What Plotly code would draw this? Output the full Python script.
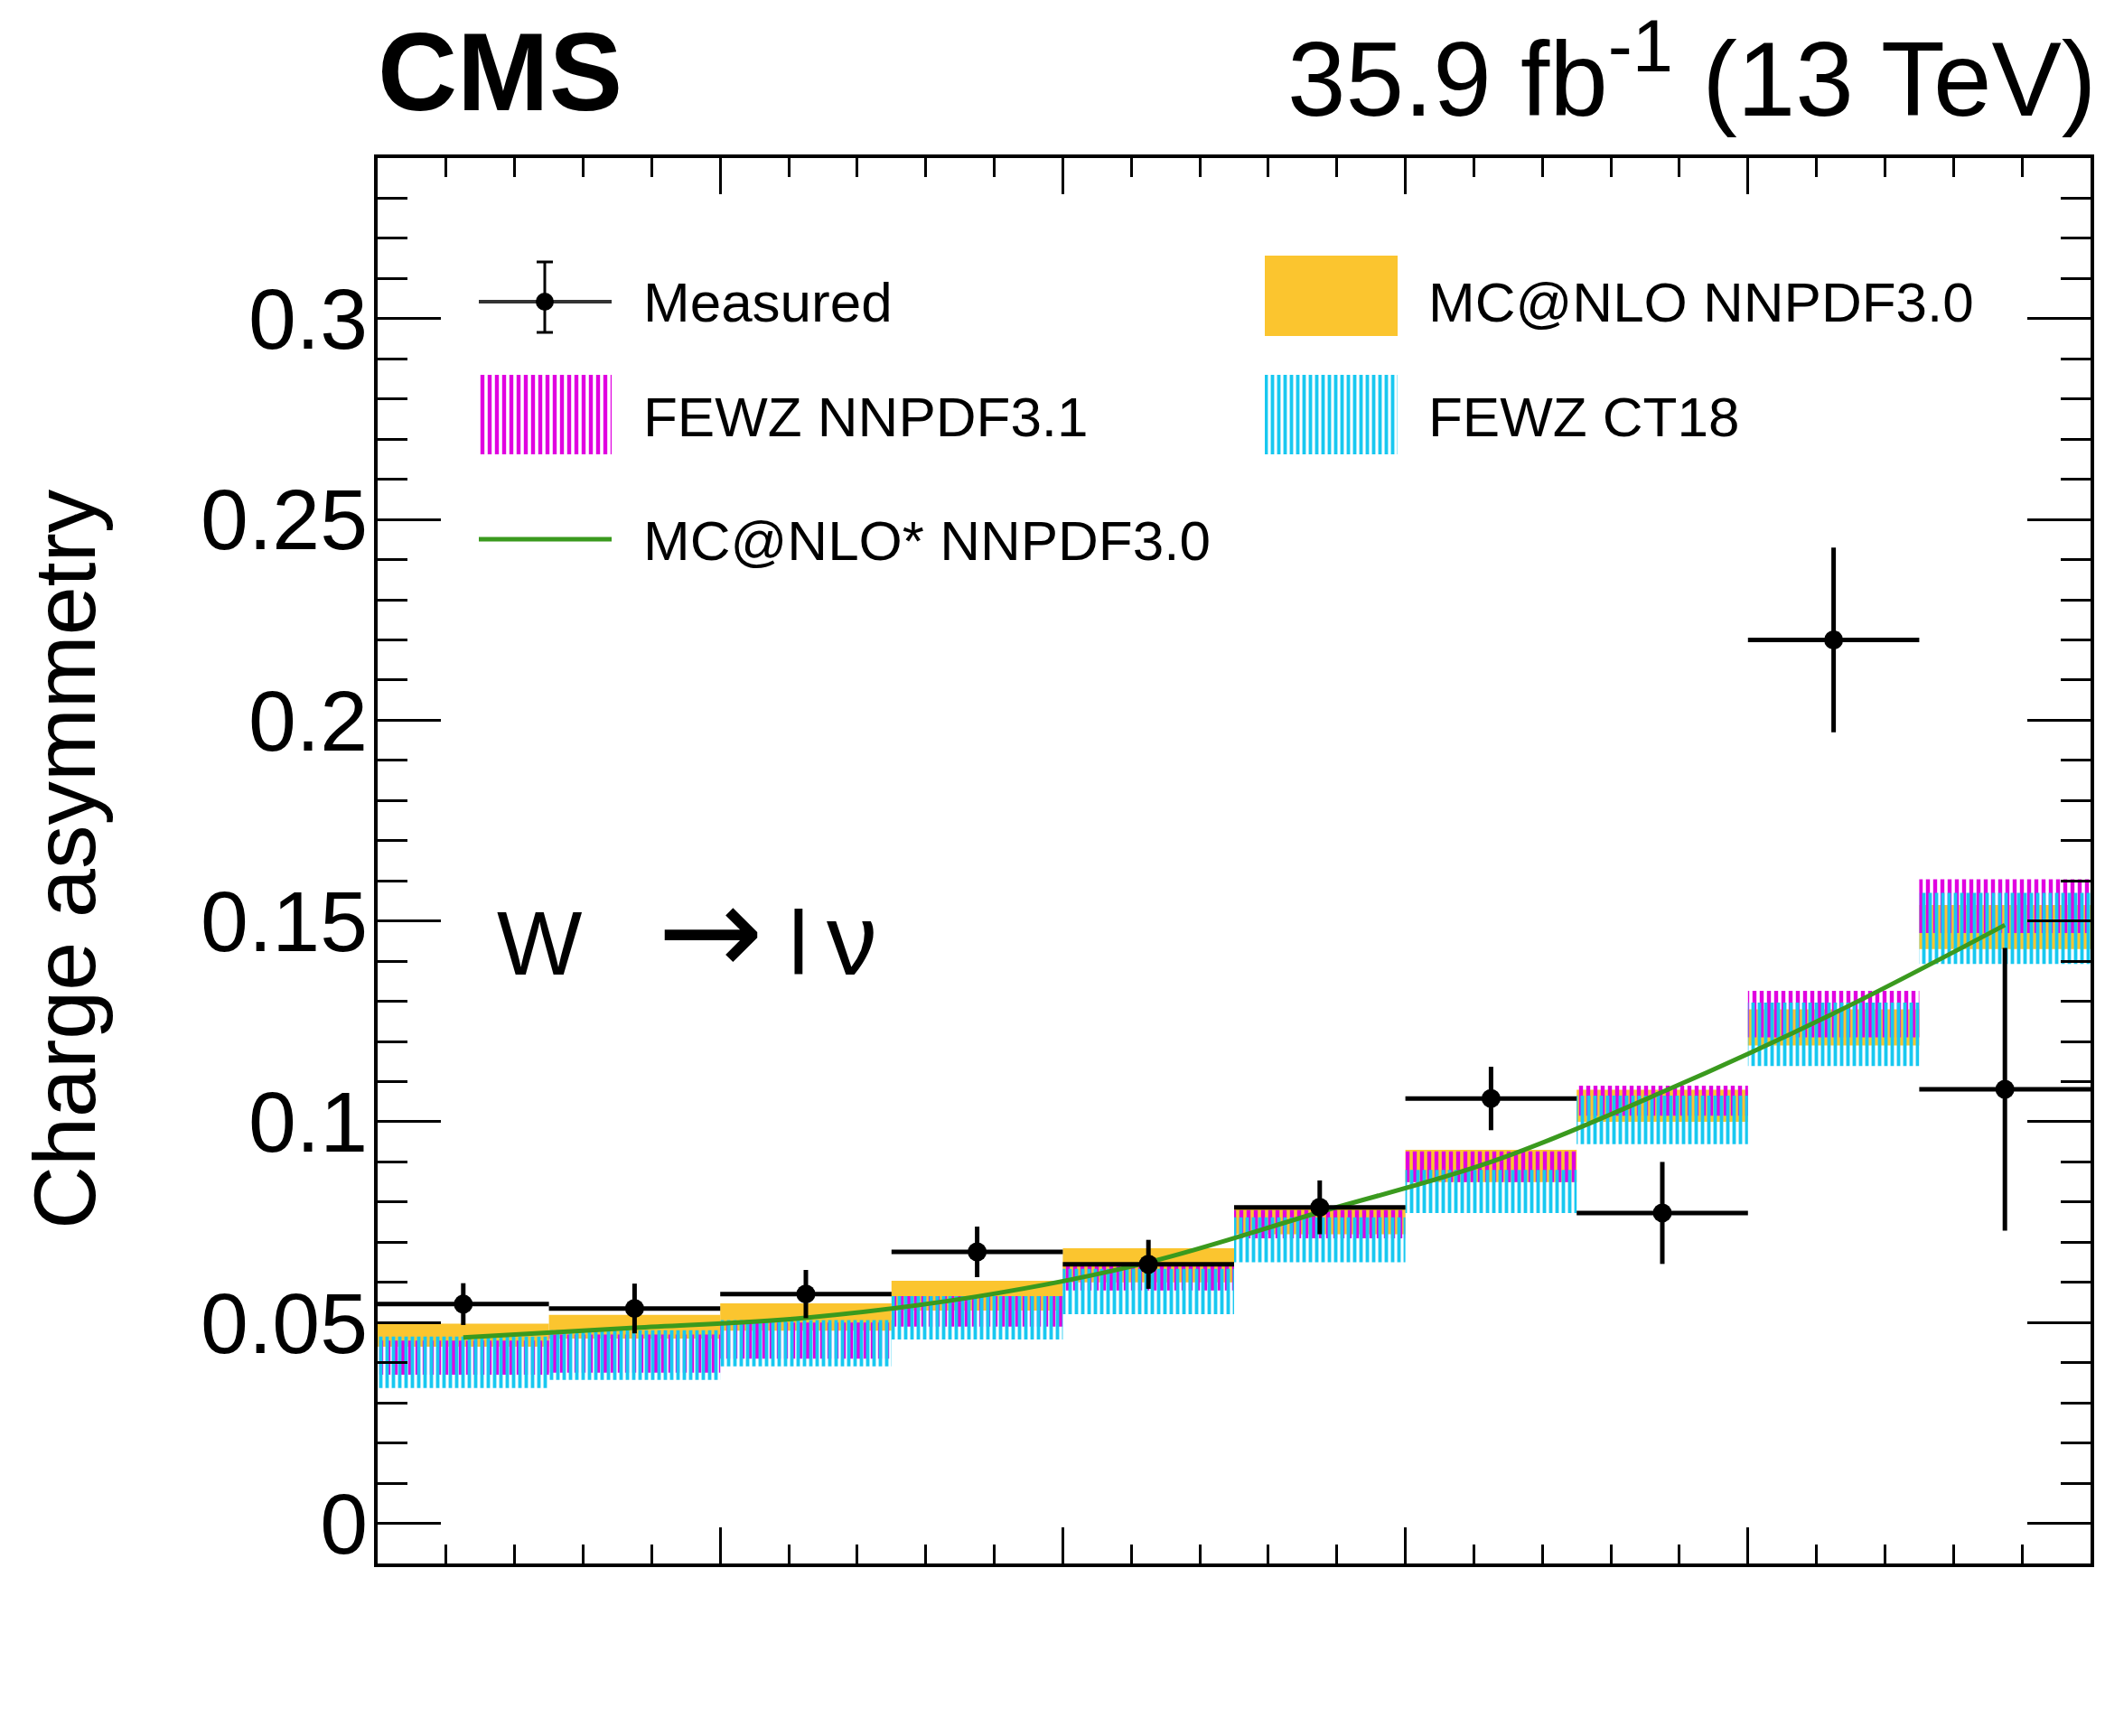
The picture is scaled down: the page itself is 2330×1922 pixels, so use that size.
import plotly.graph_objects as go

# ---- binning (10 bins, no axis labels on x) ----
bin_lo = [0.00, 0.25, 0.50, 0.75, 1.00, 1.25, 1.50, 1.75, 2.00, 2.25]
bin_hi = [0.25, 0.50, 0.75, 1.00, 1.25, 1.50, 1.75, 2.00, 2.25, 2.50]
bin_mid = [(a + b) / 2 for a, b in zip(bin_lo, bin_hi)]
bin_half = [(b - a) / 2 for a, b in zip(bin_lo, bin_hi)]

# ---- measured charge asymmetry ----
measured = [0.0546, 0.0535, 0.0571, 0.0676, 0.0645, 0.0787, 0.1058, 0.0773, 0.2200, 0.1081]
measured_err = [0.0052, 0.0062, 0.0060, 0.0063, 0.0061, 0.0067, 0.0079, 0.0127, 0.0230, 0.0352]

# ---- predictions: uncertainty bands (low, high) ----
mcnlo_lo = [0.0440, 0.0460, 0.0480, 0.0530, 0.0600, 0.0720, 0.0850, 0.1000, 0.1190, 0.1430]
mcnlo_hi = [0.0497, 0.0519, 0.0548, 0.0604, 0.0685, 0.0790, 0.0930, 0.1080, 0.1280, 0.1540]
fewz31_lo = [0.0370, 0.0375, 0.0410, 0.0490, 0.0580, 0.0710, 0.0850, 0.1015, 0.1210, 0.1470]
fewz31_hi = [0.0455, 0.0470, 0.0500, 0.0566, 0.0640, 0.0780, 0.0926, 0.1090, 0.1326, 0.1604]
ct18_lo = [0.0337, 0.0357, 0.0391, 0.0458, 0.0521, 0.0650, 0.0773, 0.0944, 0.1139, 0.1393]
ct18_hi = [0.0465, 0.0481, 0.0506, 0.0566, 0.0634, 0.0762, 0.0880, 0.1065, 0.1297, 0.1570]

# ---- MC@NLO* central prediction ----
mcnlo_star = [0.0463, 0.0487, 0.0512, 0.0565, 0.0650, 0.0775, 0.0900, 0.1074, 0.1270, 0.1490]

y_ticks = [0, 0.05, 0.1, 0.15, 0.2, 0.25, 0.3]
y_tick_text = ["0", "0.05", "0.1", "0.15", "0.2", "0.25", "0.3"]

YELLOW = "#FBC52F"
MAGENTA = "#E000E0"
CYAN = "#18C8F0"
GREEN = "#3A9A1E"
FONT = "Liberation Sans, Arial, Helvetica, sans-serif"

W, H = 2330, 1922
ML, MR, MT, MB = 418, 16, 175, 191
PW, PH = W - ML - MR, H - MT - MB


def fx(x):
    """page pixel x -> paper fraction"""
    return (x - ML) / PW


def fy(y):
    """page pixel y -> paper fraction"""
    return (H - MB - y) / PH


def hatch(color, size, solidity):
    return dict(shape="|", fgcolor=color, fgopacity=1, size=size,
                solidity=solidity, fillmode="overlay")


fig = go.Figure()

fig.add_trace(go.Bar(
    x=bin_mid, base=mcnlo_lo, y=[h - l for l, h in zip(mcnlo_lo, mcnlo_hi)],
    width=[2 * h for h in bin_half], marker=dict(color=YELLOW, line=dict(width=0)),
    showlegend=False, name="MC@NLO NNPDF3.0"))

fig.add_trace(go.Bar(
    x=bin_mid, base=fewz31_lo, y=[h - l for l, h in zip(fewz31_lo, fewz31_hi)],
    width=[2 * h for h in bin_half],
    marker=dict(color="rgba(0,0,0,0)", line=dict(width=0),
                pattern=hatch(MAGENTA, 8, 0.55)),
    showlegend=False, name="FEWZ NNPDF3.1"))

fig.add_trace(go.Bar(
    x=bin_mid, base=ct18_lo, y=[h - l for l, h in zip(ct18_lo, ct18_hi)],
    width=[2 * h for h in bin_half],
    marker=dict(color="rgba(0,0,0,0)", line=dict(width=0),
                pattern=hatch(CYAN, 7, 0.55)),
    showlegend=False, name="FEWZ CT18"))

fig.add_trace(go.Scatter(
    x=bin_mid, y=mcnlo_star, mode="lines",
    line=dict(color=GREEN, width=5, shape="spline", smoothing=1.0),
    showlegend=False, name="MC@NLO* NNPDF3.0"))

fig.add_trace(go.Scatter(
    x=bin_mid, y=measured, mode="markers",
    marker=dict(color="black", size=21, symbol="circle"),
    error_x=dict(type="data", array=bin_half, color="black", thickness=5, width=0),
    error_y=dict(type="data", array=measured_err, color="black", thickness=5, width=0),
    showlegend=False, name="Measured"))

# ---- hatched legend swatches on an invisible overlay axis (paper-like 0..1) ----
def swatch(x0, x1, y0, y1, color, size, solidity):
    fig.add_trace(go.Scatter(
        x=[fx(x0), fx(x1), fx(x1), fx(x0), fx(x0)],
        y=[fy(y1), fy(y1), fy(y0), fy(y0), fy(y1)],
        xaxis="x2", yaxis="y2", mode="lines", line=dict(width=0),
        fill="toself", fillcolor="rgba(0,0,0,0)",
        fillpattern=hatch(color, size, solidity),
        showlegend=False, hoverinfo="skip"))


swatch(530, 677, 415, 503, MAGENTA, 8, 0.55)
swatch(1400, 1547, 415, 503, CYAN, 7, 0.55)

shapes = []
# yellow legend box
shapes.append(dict(type="rect", xref="paper", yref="paper",
                   x0=fx(1400), x1=fx(1547), y0=fy(372), y1=fy(283),
                   fillcolor=YELLOW, line=dict(width=0)))
# green legend line
shapes.append(dict(type="line", xref="paper", yref="paper",
                   x0=fx(530), x1=fx(677), y0=fy(597), y1=fy(597),
                   line=dict(color=GREEN, width=5)))
# measured legend symbol
shapes.append(dict(type="line", xref="paper", yref="paper",
                   x0=fx(530), x1=fx(677), y0=fy(334), y1=fy(334),
                   line=dict(color="#333333", width=4)))
shapes.append(dict(type="line", xref="paper", yref="paper",
                   x0=fx(603), x1=fx(603), y0=fy(290), y1=fy(368),
                   line=dict(color="black", width=3)))
for yy in (290, 368):
    shapes.append(dict(type="line", xref="paper", yref="paper",
                       x0=fx(594), x1=fx(612), y0=fy(yy), y1=fy(yy),
                       line=dict(color="black", width=3)))
shapes.append(dict(type="circle", xref="paper", yref="paper",
                   x0=fx(593), x1=fx(613), y0=fy(344), y1=fy(324),
                   fillcolor="black", line=dict(width=0)))

annotations = []


def label(text, x, y, size, xanchor="left", bold=False, angle=0):
    annotations.append(dict(
        text=f"<b>{text}</b>" if bold else text,
        x=fx(x), y=fy(y), xref="paper", yref="paper",
        xanchor=xanchor, yanchor="middle", showarrow=False, textangle=angle,
        font=dict(family=FONT, size=size, color="black")))


label("Measured", 710, 334, 62)
label("FEWZ NNPDF3.1", 710, 461, 62)
label("MC@NLO* NNPDF3.0", 710, 598, 62)
label("MC@NLO NNPDF3.0", 1579, 334, 62)
label("FEWZ CT18", 1579, 461, 62)
label("W&nbsp;&nbsp;&nbsp;<span style='font-family:DejaVu Sans;font-size:140px'>→</span>"
      "&nbsp;l\u2009<span style='font-size:112px'>ν</span>", 548, 1030, 100)
label("CMS", 416, 80, 122, bold=True)
label("35.9 fb<sup>-1</sup> (13 TeV)", 2322, 80, 116, xanchor="right")
label("Charge asymmetry", 71, 951, 97, xanchor="center", angle=-90)

axis_common = dict(showline=True, linecolor="black", linewidth=4, mirror="ticks",
                   showgrid=False, zeroline=False, ticks="inside", tickcolor="black",
                   tickwidth=3)

fig.update_layout(
    width=W, height=H,
    margin=dict(l=ML, r=MR, t=MT, b=MB, pad=0),
    paper_bgcolor="white", plot_bgcolor="white",
    barmode="overlay",
    showlegend=False,
    font=dict(family=FONT, color="black"),
    xaxis=dict(range=[0, 2.5], tick0=0, dtick=0.5, ticklen=40, showticklabels=False,
               minor=dict(dtick=0.1, ticklen=21, ticks="inside", tickcolor="black",
                          tickwidth=3),
               **axis_common),
    yaxis=dict(range=[-0.01, 0.34], tickvals=y_ticks, ticktext=y_tick_text,
               ticklen=70, tickfont=dict(size=95, family=FONT),
               ticklabelstandoff=-12,
               minor=dict(dtick=0.01, tick0=0, ticklen=33, ticks="inside",
                          tickcolor="black", tickwidth=3),
               **axis_common),
    xaxis2=dict(range=[0, 1], overlaying="x", anchor="y2", visible=False,
                fixedrange=True),
    yaxis2=dict(range=[0, 1], overlaying="y", anchor="x2", visible=False,
                fixedrange=True),
    shapes=shapes,
    annotations=annotations,
)

fig.write_html("out.html")
